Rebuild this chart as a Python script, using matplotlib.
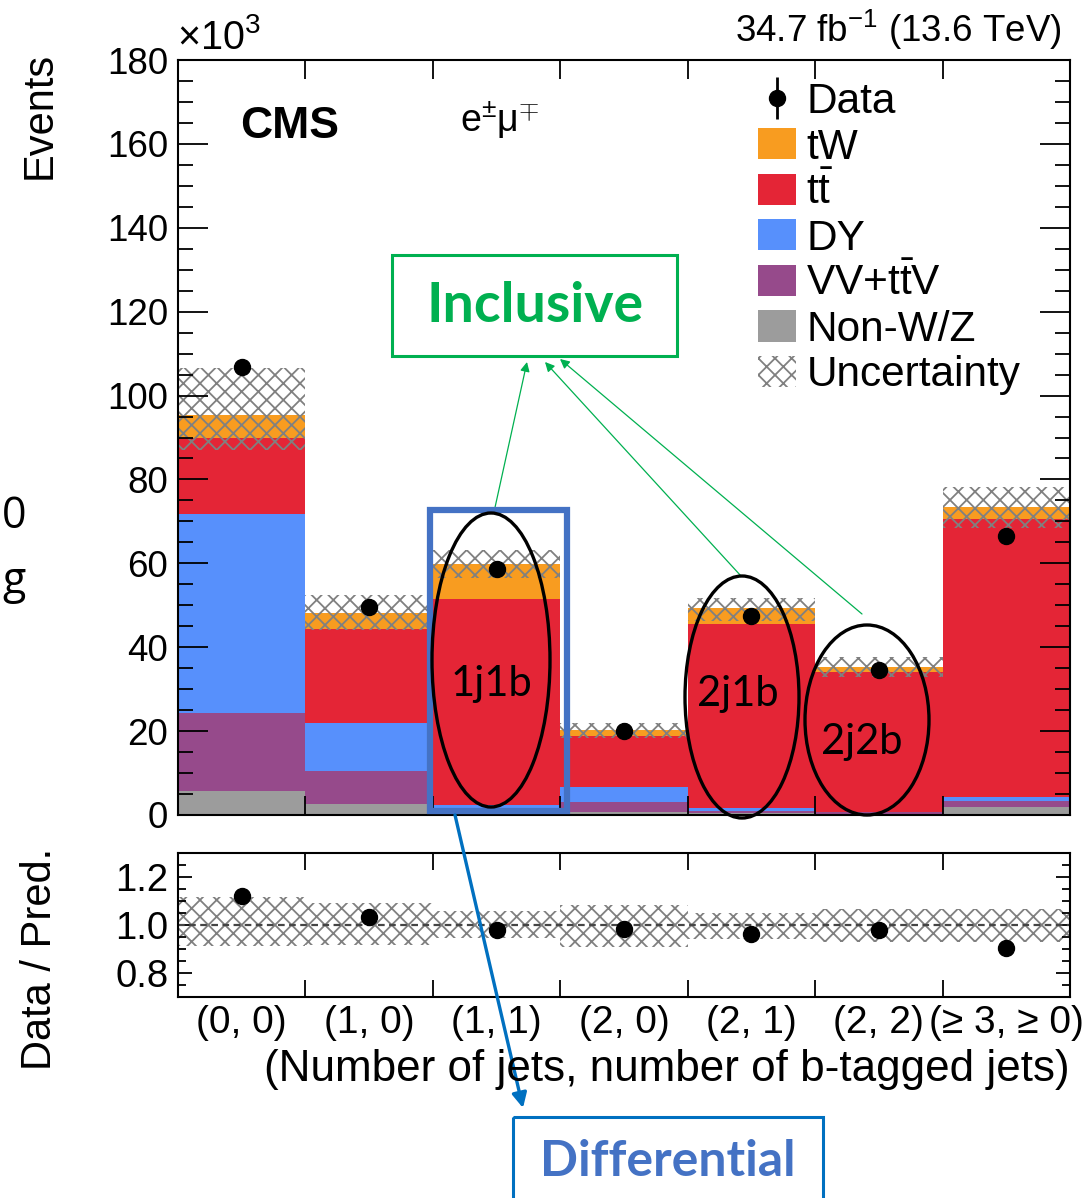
import numpy as np
import matplotlib
matplotlib.use("Agg")
import matplotlib.pyplot as plt
from matplotlib.patches import Rectangle, Ellipse, FancyArrowPatch, Patch
from matplotlib.transforms import Affine2D
from matplotlib.ticker import MultipleLocator

plt.rcParams["font.family"] = ["Liberation Sans", "DejaVu Sans"]
plt.rcParams["mathtext.fontset"] = "custom"
plt.rcParams["mathtext.rm"] = "Liberation Sans"
plt.rcParams["mathtext.it"] = "Liberation Sans:italic"
plt.rcParams["mathtext.bf"] = "Liberation Sans:bold"
plt.rcParams["hatch.linewidth"] = 1.3

# ---- event yields per (n jets, n b-tagged jets) category, in units of 10^3 ----
bin_labels = ["(0, 0)", "(1, 0)", "(1, 1)", "(2, 0)", "(2, 1)", "(2, 2)", "(≥ 3, ≥ 0)"]
nonwz = [5.7, 2.6, 0.7, 0.8, 0.5, 0.3, 1.8]
vv_ttv = [18.5, 7.9, 1.0, 2.4, 0.5, 0.3, 1.6]
dy = [47.5, 11.4, 0.8, 3.4, 0.6, 0.2, 1.0]
ttbar = [18.3, 22.4, 48.9, 12.2, 43.9, 33.4, 66.1]
tw = [5.4, 3.8, 8.4, 1.5, 3.8, 1.2, 3.0]
data = [106.9, 49.7, 58.6, 20.0, 47.5, 34.6, 66.4]
data_err = [0.33, 0.22, 0.24, 0.14, 0.22, 0.19, 0.26]
# relative uncertainty of the prediction (up / down)
unc_up = [0.116, 0.09, 0.058, 0.085, 0.05, 0.067, 0.065]
unc_dn = [0.088, 0.085, 0.055, 0.09, 0.06, 0.07, 0.07]

components = [
    ("Non-W/Z", nonwz, "#9C9C9C"),
    (r"VV+$\mathrm{t\bar{t}}$V", vv_ttv, "#964A8B"),
    ("DY", dy, "#5790FC"),
    (r"$\mathrm{t\bar{t}}$", ttbar, "#E42536"),
    ("tW", tw, "#F89C20"),
]

W, H = 1092, 1198
fig = plt.figure(figsize=(W / 100, H / 100), dpi=100)
# pixel coordinates measured from the top-left corner of the canvas
T = Affine2D().scale(1.0 / W, -1.0 / H).translate(0, 1) + fig.transFigure

ax = fig.add_axes([178 / W, 1 - 815 / H, 892 / W, 755 / H])
rax = fig.add_axes([178 / W, 1 - 996.7 / H, 892 / W, 143.4 / H])

nb = len(bin_labels)
edges = np.arange(nb + 1)
centers = edges[:-1] + 0.5

# stacked prediction
bottom = np.zeros(nb)
handles = {}
for name, vals, col in components:
    vals = np.asarray(vals)
    b = ax.bar(edges[:-1], vals, bottom=bottom, width=1.0, align="edge",
               color=col, linewidth=0)
    handles[name] = b
    bottom = bottom + vals
total = bottom

up = np.asarray(unc_up)
dn = np.asarray(unc_dn)
hatch_col = "#808080"
ax.bar(edges[:-1], total * (up + dn), bottom=total * (1 - dn), width=1.0,
       align="edge", facecolor="none", edgecolor=hatch_col, linewidth=0, hatch="xx")

dat = ax.errorbar(centers, data, yerr=data_err, fmt="o", color="black",
                  ms=11.5, elinewidth=2, capsize=0)

ax.set_xlim(0, nb)
ax.set_ylim(0, 180)
ax.yaxis.set_major_locator(MultipleLocator(20))
ax.yaxis.set_minor_locator(MultipleLocator(5))
ax.set_xticks(edges[1:-1])
ax.tick_params(axis="x", which="major", direction="in", top=True, bottom=True,
               length=14, width=1.3, labelbottom=False)
ax.tick_params(axis="y", which="major", direction="in", left=True, right=True,
               length=21.5, width=1.3, labelsize=26.5, pad=7)
ax.tick_params(axis="y", which="minor", direction="in", left=True, right=True,
               length=10.8, width=1.3)
for s in ax.spines.values():
    s.set_linewidth(1.5)

# legend
leg_handles = [dat] + [handles[n] for n, _, _ in components[::-1]] + [
    Patch(facecolor="none", edgecolor=hatch_col, linewidth=0, hatch="xx")]
leg_labels = ["Data"] + [n for n, _, _ in components[::-1]] + ["Uncertainty"]
ax.legend(leg_handles, leg_labels, loc="upper left",
          bbox_to_anchor=(758 / W, 1 - 82 / H), bbox_transform=fig.transFigure,
          frameon=False, fontsize=30.5, handlelength=0.9, handleheight=0.76,
          handletextpad=0.24, labelspacing=0.13, borderpad=0, borderaxespad=0)

# ratio panel
ratio = np.asarray(data) / total
rax.bar(edges[:-1], up + dn, bottom=1 - dn, width=1.0, align="edge",
        facecolor="none", edgecolor=hatch_col, linewidth=0, hatch="xx")
rax.axhline(1.0, color="#444444", lw=1.6, ls=(0, (3, 2)))
rax.plot(centers, ratio, "o", color="black", ms=11.5)
rax.set_xlim(0, nb)
rax.set_ylim(0.7, 1.3)
rax.set_yticks([0.8, 1.0, 1.2])
rax.yaxis.set_minor_locator(MultipleLocator(0.05))
rax.set_xticks(edges[1:-1])
rax.set_xticks(centers, bin_labels, minor=True)
rax.tick_params(axis="x", which="major", direction="in", top=True, bottom=True,
                length=12, width=1.3, labelbottom=False)
rax.tick_params(axis="x", which="minor", length=0, labelsize=28, pad=6)
rax.tick_params(axis="y", which="major", direction="in", left=True, right=True,
                length=10, width=1.3, labelsize=27.5, pad=7)
rax.tick_params(axis="y", which="minor", direction="in", left=True, right=True,
                length=6, width=1.3)
for s in rax.spines.values():
    s.set_linewidth(1.5)

# axis titles and headers
fig.text(40, 52, "Events", transform=T, rotation=90, ha="center", va="top", fontsize=30)
fig.text(40, 848, "Data / Pred.", transform=T, rotation=90, ha="center", va="top", fontsize=30)
fig.text(1070, 1070, "(Number of jets, number of b-tagged jets)", transform=T,
         ha="right", va="center", fontsize=31.7)
fig.text(177, 49, r"$\times$10$^{3}$", transform=T, ha="left", va="baseline", fontsize=28.5)
fig.text(1062, 42, r"34.7 fb$^{-1}$ (13.6 TeV)", transform=T, ha="right",
         va="baseline", fontsize=26.5)
fig.text(240, 126, "CMS", transform=T, ha="left", va="center", fontsize=32,
         fontweight="bold")
fig.text(460, 120, r"e$^{\pm}$μ$^{\mp}$", transform=T, ha="left", va="center",
         fontsize=27)

# slide-style callouts
green = "#00B050"
fig.add_artist(Rectangle((392, 255), 285, 101, transform=T, fill=False,
                         edgecolor=green, lw=2.2))
fig.text(535, 306, "Inclusive", transform=T, ha="center", va="center",
         fontsize=40, fontweight="bold", color=green, family="Lato")
for start, end in [((494, 512), (527, 362)), ((741, 576), (545, 362)),
                   ((862, 614), (560, 359))]:
    fig.add_artist(FancyArrowPatch(start, end, transform=T, arrowstyle="-|>",
                                   mutation_scale=14, color=green, lw=0.9,
                                   shrinkA=0, shrinkB=0))

fig.add_artist(Rectangle((430, 510), 137, 301, transform=T, fill=False,
                         edgecolor="#4472C4", lw=4.5))
for (cx, cy, w, h) in [(491, 660, 118, 294), (742, 697, 114, 242), (867, 720, 124, 190)]:
    fig.add_artist(Ellipse((cx, cy), w, h, transform=T, fill=False,
                           edgecolor="black", lw=2.4))
for (tx, ty, s) in [(491, 684, "1j1b"), (738, 694, "2j1b"), (862, 742, "2j2b")]:
    fig.text(tx, ty, s, transform=T, ha="center", va="center", fontsize=30,
             family="Lato")

fig.add_artist(FancyArrowPatch((455, 815), (523, 1108), transform=T,
                               arrowstyle="-|>", mutation_scale=22,
                               color="#0070C0", lw=2.4, shrinkA=0, shrinkB=0))
fig.add_artist(Rectangle((513, 1117), 310, 90, transform=T, fill=False,
                         edgecolor="#0070C0", lw=2.2))
fig.text(668, 1161, "Differential", transform=T, ha="center", va="center",
         fontsize=36, fontweight="bold", color="#4472C4", family="Lato")

# text fragments at the left edge of the slide
fig.text(14, 517, "0", transform=T, ha="center", va="center", fontsize=31,
         family="Open Sans")
fig.text(14, 582, "g", transform=T, ha="center", va="center", fontsize=31,
         family="Open Sans")

fig.savefig("out.png", dpi=100)
